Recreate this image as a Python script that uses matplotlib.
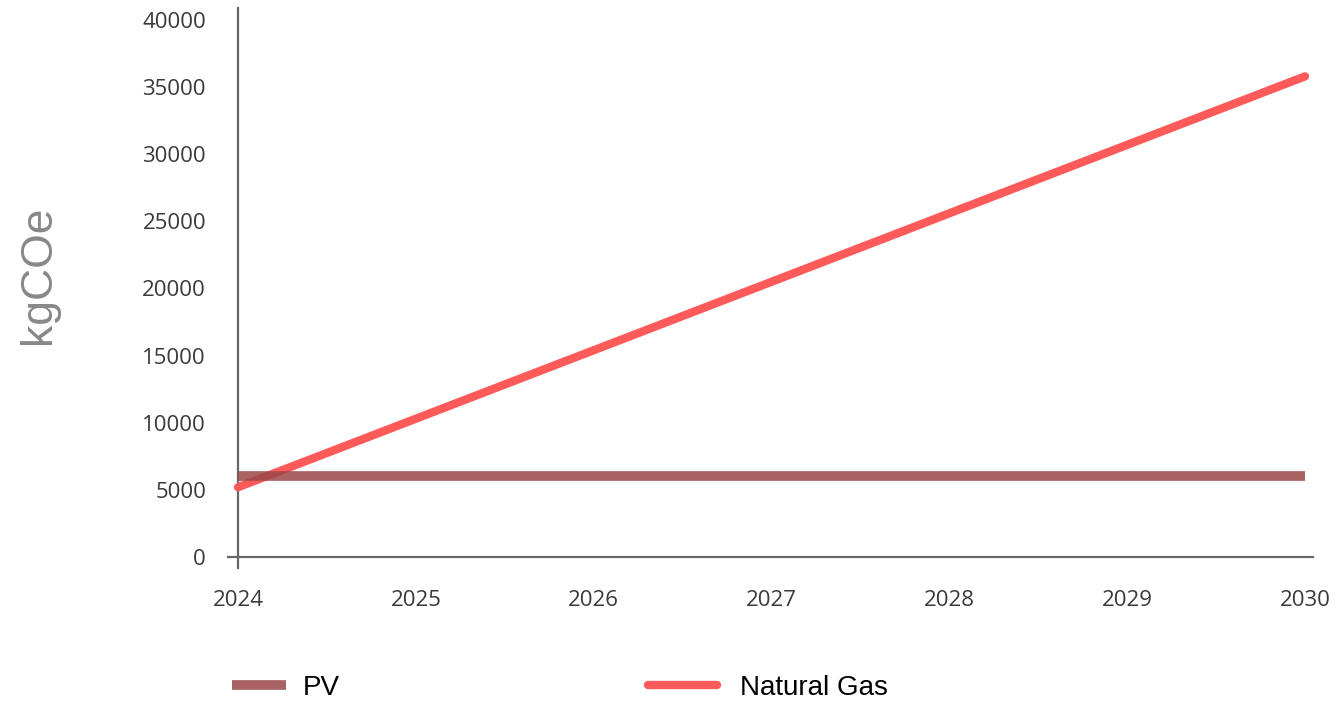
import matplotlib.pyplot as plt

years = [2024, 2025, 2026, 2027, 2028, 2029, 2030]
pv = [6000, 6000, 6000, 6000, 6000, 6000, 6000]
natural_gas = [5200, 10300, 15400, 20500, 25600, 30700, 35800]
y_ticks = [0, 5000, 10000, 15000, 20000, 25000, 30000, 35000, 40000]

W, H = 1337, 708
fig = plt.figure(figsize=(W / 100, H / 100), dpi=100)

# axes box in pixels: left, right, top, bottom
left_px, right_px, top_px, bottom_px = 228, 1313, 8, 568
ax = fig.add_axes([left_px / W, (H - bottom_px) / H,
                   (right_px - left_px) / W, (bottom_px - top_px) / H])

# pixel scale used to let the spines overhang a little
px_per_year = (1305 - 238) / 6
px_per_unit = (557 - 20) / 40000
ax.set_xlim(2024 - (238 - left_px) / px_per_year, 2030 + (right_px - 1305) / px_per_year)
ax.set_ylim(-(bottom_px - 557) / px_per_unit, 40000 + (20 - top_px) / px_per_unit)

gas_line, = ax.plot(years, natural_gas, color="#ff5a5a", lw=6, solid_capstyle="round",
                    label="Natural Gas", zorder=3)
pv_line, = ax.plot(years, pv, color="#9a4848", lw=7, alpha=0.85, solid_capstyle="butt",
                   label="PV", zorder=4)

for s in ["top", "right"]:
    ax.spines[s].set_visible(False)
ax.spines["left"].set_position(("data", 2024))
ax.spines["bottom"].set_position(("data", 0))
for s in ["left", "bottom"]:
    ax.spines[s].set_color("#666666")
    ax.spines[s].set_linewidth(1.6)

ax.set_xticks(years)
ax.set_xticklabels([str(y) for y in years])
ax.set_yticks(y_ticks)
ax.set_yticklabels([str(v) for v in y_ticks])
ax.tick_params(axis="both", length=0, labelsize=16, labelcolor="#3a3a3a")
ax.tick_params(axis="y", pad=23)
ax.tick_params(axis="x", pad=24)
for lab in ax.get_xticklabels() + ax.get_yticklabels():
    lab.set_family("Open Sans")

fig.text(38 / W, (H - 275) / H, "kgCOe", rotation=90, ha="center", va="center",
         fontsize=32, color="#888888", family="Liberation Sans")

# one legend per entry so each sits at its own spot under the axis
leg_prop = {"family": "Liberation Sans", "size": 20}
fig.legend([pv_line], ["PV"], loc="center left",
           bbox_to_anchor=(232 / W, (H - 688) / H), frameon=False,
           borderpad=0, borderaxespad=0, handlelength=1.95,
           handletextpad=0.58, prop=leg_prop)
fig.legend([gas_line], ["Natural Gas"], loc="center left",
           bbox_to_anchor=(648 / W, (H - 688) / H), frameon=False,
           borderpad=0, borderaxespad=0, handlelength=2.5,
           handletextpad=0.8, prop=leg_prop)

fig.savefig("out.png", dpi=100)
